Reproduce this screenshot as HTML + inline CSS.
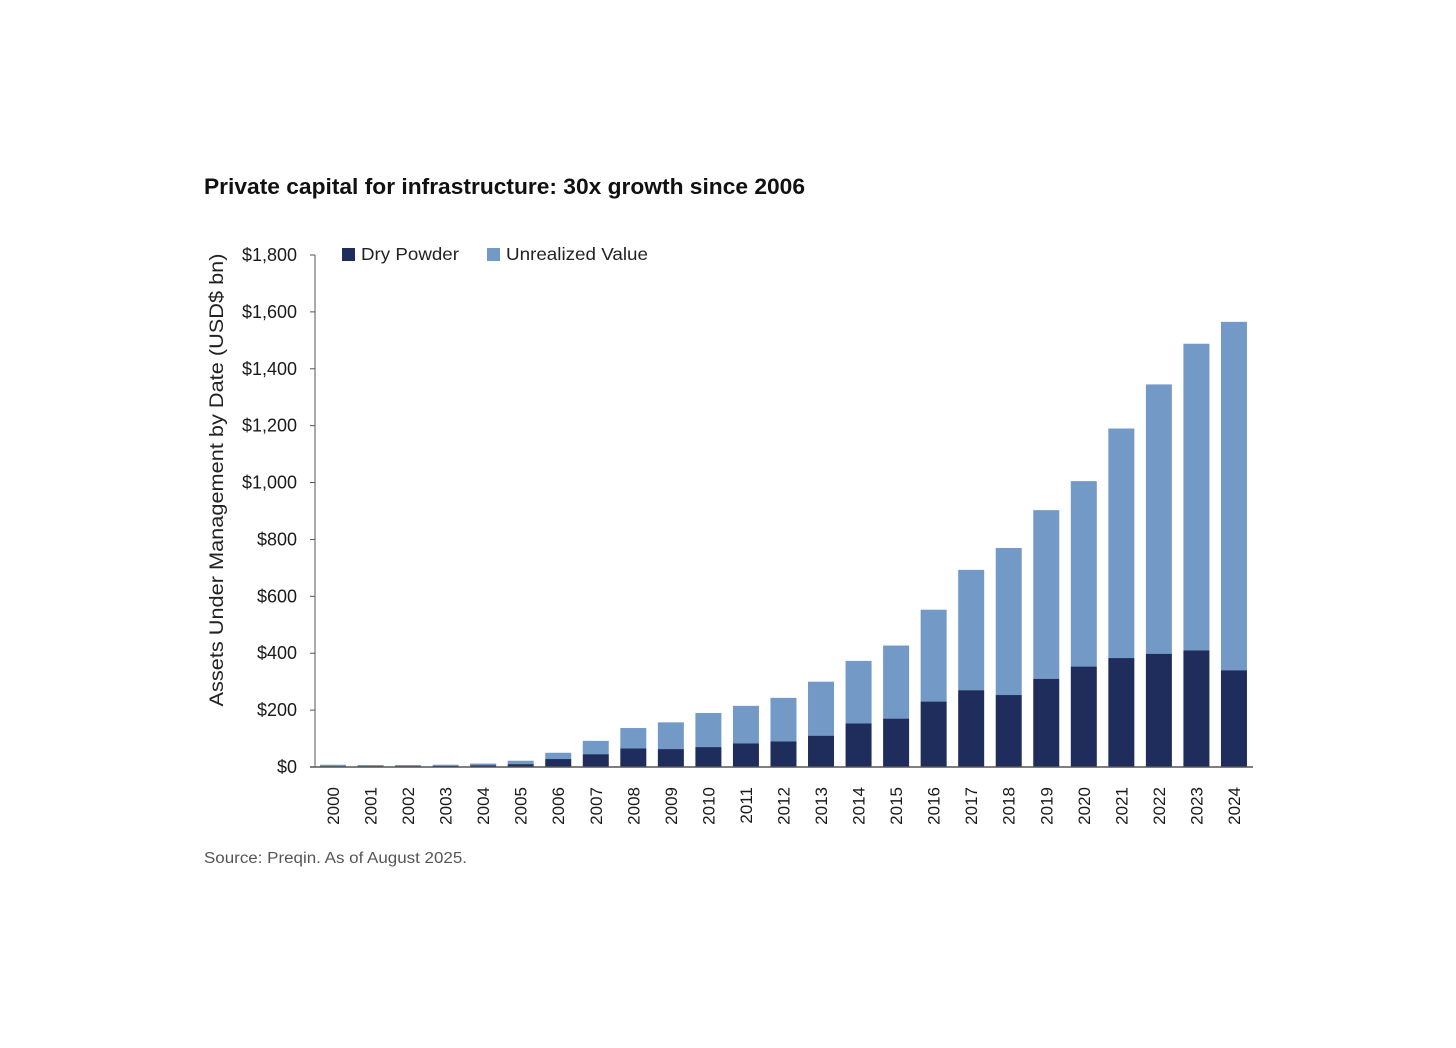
<!DOCTYPE html>
<html><head><meta charset="utf-8"><style>
html,body{margin:0;padding:0;background:#fff;}
svg{display:block;font-family:"Liberation Sans",sans-serif;}
</style></head><body>
<svg width="1456" height="1048" viewBox="0 0 1456 1048">
<text x="204" y="194" font-size="22" font-weight="bold" fill="#111" textLength="601" lengthAdjust="spacingAndGlyphs">Private capital for infrastructure: 30x growth since 2006</text>
<text transform="translate(223,480) rotate(-90)" text-anchor="middle" font-size="19" fill="#222" textLength="453" lengthAdjust="spacingAndGlyphs">Assets Under Management by Date (USD$ bn)</text>
<g>
<rect x="342" y="248" width="13" height="13" fill="#1f2d5c"/>
<text x="361" y="260" font-size="17.5" fill="#222" textLength="98" lengthAdjust="spacingAndGlyphs">Dry Powder</text>
<rect x="487" y="248" width="13" height="13" fill="#7399c6"/>
<text x="506" y="260" font-size="17.5" fill="#222" textLength="142" lengthAdjust="spacingAndGlyphs">Unrealized Value</text>
</g>
<g id="plot"></g>
<text x="204" y="863" font-size="15.5" fill="#555" textLength="263" lengthAdjust="spacingAndGlyphs">Source: Preqin. As of August 2025.</text>
</svg>
<script>
const years=["2000","2001","2002","2003","2004","2005","2006","2007","2008","2009","2010","2011","2012","2013","2014","2015","2016","2017","2018","2019","2020","2021","2022","2023","2024"];
const totals=[8,7,7,8,12,22,50,92,137,157,190,215,243,300,373,427,553,693,770,903,1005,1190,1345,1488,1565];
const dryPowder=[3,3,3,4,6,10,28,45,65,63,70,83,90,110,153,170,230,270,253,310,353,383,398,410,340];
const yTicks=[0,200,400,600,800,1000,1200,1400,1600,1800];
const yTickLabels=["$0","$200","$400","$600","$800","$1,000","$1,200","$1,400","$1,600","$1,800"];
const NS="http://www.w3.org/2000/svg";
const g=document.getElementById('plot');
const y0=767,yTop=255,yMax=1800,xL=315,xR=1253,x0=333,step=37.54,bw=26;
const y=v=>y0-(v/yMax)*(y0-yTop);
const x=i=>x0+i*step;
function mk(t,a){const e=document.createElementNS(NS,t);for(const k in a)e.setAttribute(k,a[k]);g.appendChild(e);return e;}
years.forEach((yr,i)=>{
 const u=mk('rect',{x:x(i)-bw/2,y:y(totals[i]),width:bw,height:y(dryPowder[i])-y(totals[i]),fill:'#7399c6'});
 
 
 const d=mk('rect',{x:x(i)-bw/2,y:y(dryPowder[i]),width:bw,height:y0-y(dryPowder[i]),fill:'#1f2d5c'});
 
 
 const t=mk('text',{transform:`translate(${x(i)+6},${787}) rotate(-90)`,'text-anchor':'end','font-size':'17',fill:'#1a1a1a'});
 t.textContent=yr;
 
 
});
yTicks.forEach((v,i)=>{
 const l=mk('line',{x1:xL-5,x2:xL,y1:y(v),y2:y(v),stroke:'#555','stroke-width':1});
 
 
 const t=mk('text',{x:297,y:y(v)+6,'text-anchor':'end','font-size':'18',fill:'#1a1a1a'});
 t.textContent=yTickLabels[i];
 
 
});
const ya=mk('line',{x1:xL,x2:xL,y1:yTop,y2:y0,stroke:'#555','stroke-width':1});


const xa=mk('line',{x1:xL-5,x2:xR,y1:y0,y2:y0,stroke:'#555','stroke-width':1.5});


</script>
</body></html>
